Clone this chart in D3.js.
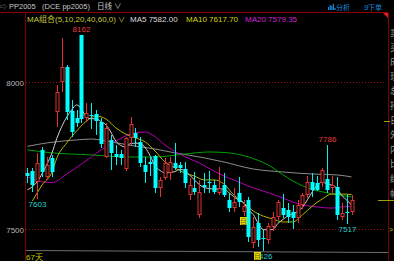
<!DOCTYPE html>
<html>
<head>
<meta charset="utf-8">
<script src="https://cdn.jsdelivr.net/npm/d3@7"></script>
<style>
  html, body { margin: 0; padding: 0; background: #000; overflow: hidden; }
  svg { display: block; }
  text { font-family: "Liberation Sans", "Noto Sans CJK SC", sans-serif; }
</style>
</head>
<body>
<svg id="chart" width="394" height="261"></svg>
<script>
// daily candles, PP2005 (67 days)
const candleOpen  = [7691,7699,7661,7770,7678,7744,7900,8002,8053,7902,7880,8160,7877,7890,7892,7864,7747,7804,7756,7756,
                     7704,7810,7829,7798,7719,7728,7749,7640,7673,7690,7724,7719,7704,7617,7640,7549,7651,7662,7651,7622,
                     7651,7600,7574,7622,7558,7600,7452,7520,7472,7463,7509,7543,7571,7566,7560,7537,7583,7617,7662,7659,
                     7657,7670,7640,7645,7543,7560,7560];
const candleHigh  = [7708,7708,7760,7781,7746,7753,7991,8150,8060,7940,7906,8162,7930,7930,7906,7879,7860,7821,7787,7770,
                     7815,7881,7844,7815,7747,7750,7753,7679,7742,7747,7793,7730,7730,7673,7696,7668,7690,7700,7668,7711,
                     7690,7622,7640,7679,7600,7611,7543,7554,7498,7520,7560,7600,7620,7590,7583,7600,7625,7680,7690,7680,
                     7707,7786,7680,7679,7590,7620,7617];
const candleLow   = [7657,7627,7603,7679,7668,7679,7849,7968,7872,7815,7848,7862,7865,7840,7821,7775,7742,7702,7719,7720,
                     7700,7787,7781,7713,7657,7680,7622,7611,7668,7668,7702,7690,7640,7600,7617,7537,7625,7622,7620,7615,
                     7611,7560,7560,7577,7546,7458,7435,7440,7426,7450,7495,7530,7540,7520,7500,7520,7570,7605,7610,7630,
                     7645,7622,7625,7530,7530,7517,7549];
const candleClose = [7682,7651,7725,7696,7719,7696,7968,8053,7900,7832,7861,7875,7895,7885,7869,7790,7844,7759,7747,7742,
                     7810,7857,7810,7724,7696,7722,7640,7668,7724,7730,7708,7708,7656,7651,7628,7628,7645,7656,7628,7640,
                     7617,7574,7594,7592,7580,7475,7509,7463,7466,7511,7543,7594,7549,7543,7537,7583,7617,7662,7635,7634,
                     7702,7634,7650,7549,7556,7555,7600];

// moving averages: [day index, price]
const ma5Pts  = [[0,7634],[1,7645],[2,7662],[3,7690],[4,7722],[5,7760],[6,7810],[7,7850],[8,7882],[9,7906],[10,7923],[11,7910],
                 [12,7882],[13,7876],[14,7876],[15,7866],[16,7855],[17,7830],[18,7800],[19,7785],[20,7780],[21,7792],[22,7793],
                 [23,7792],[24,7777],[25,7750],[26,7716],[27,7700],[28,7692],[30,7696],[31,7704],[32,7700],[33,7685],[34,7668],
                 [35,7652],[36,7642],[38,7637],[40,7637],[41,7625],[42,7611],[43,7600],[44,7591],[45,7565],[46,7550],[47,7520],
                 [48,7499],[49,7498],[50,7500],[51,7520],[52,7533],[53,7545],[54,7553],[55,7560],[56,7575],[57,7600],[58,7627],
                 [59,7650],[60,7660],[61,7655],[62,7650],[63,7640],[64,7615],[65,7600],[66,7582]];
const ma10Pts = [[1,7596],[3,7651],[5,7695],[6,7743],[8,7794],[10,7834],[12,7868],[14,7885],[16,7875],[18,7845],[20,7824],
                 [22,7811],[24,7797],[26,7766],[28,7729],[30,7709],[32,7692],[34,7681],[36,7668],[38,7668],[40,7654],[42,7617],
                 [44,7590],[46,7562],[48,7545],[50,7535],[52,7525],[54,7525],[56,7549],[58,7579],[60,7603],[62,7620],[64,7620],[66,7618]];
const ma20Pts = [[0,7679],[3,7662],[5,7659],[8,7688],[11,7722],[13,7746],[15,7770],[18,7800],[21,7824],[24,7831],[26,7815],
                 [28,7787],[30,7765],[32,7747],[35,7726],[38,7698],[40,7681],[42,7668],[45,7647],[48,7630],[51,7613],[54,7593],
                 [56,7583],[59,7576],[62,7572],[64,7576],[66,7579]];
const ma40Pts = [[0,7770],[5,7760],[13,7753],[20,7746],[26,7746],[32,7756],[37,7763],[41,7760],[45,7746],[49,7719],[53,7675],
                 [57,7641],[61,7624],[66,7610]];
const ma60Pts = [[0,7782],[4,7794],[10,7804],[13,7807],[17,7797],[22,7783],[26,7773],[30,7760],[36,7743],[40,7729],[46,7705],
                 [52,7695],[58,7688],[63,7685],[66,7678]];

const yTicks = [7500, 8000];
const extremes = [{i: 11, v: 8162, kind: "high"}, {i: 2, v: 7603, kind: "low"}, {i: 61, v: 7786, kind: "high"},
                  {i: 65, v: 7517, kind: "low"}, {i: 48, v: 7426, kind: "low"}];
const maLegend = [{t: "MA5 7582.00", c: "#dcdcdc"}, {t: "MA10 7617.70", c: "#d4d400"}, {t: "MA20 7579.35", c: "#d020d0"}];
const sidePanel = ["卖","买","成","现","总","持","日","外","内","比","结","幅"];

const svg = d3.select("#chart");
const width = 394, height = 261;
svg.append("rect").attr("width", width).attr("height", height).attr("fill", "#000");

const days = d3.range(candleClose.length);
const x = d3.scaleBand().domain(days).range([25, 354]).padding(0);
const cx = i => Math.round(x(i) + x.bandwidth() / 2);
const y = d3.scaleLinear().domain([7500, 8000]).range([229.3, 82.3]);

// header
svg.append("text").attr("x", 0).attr("y", 9).attr("fill", "#a0a0a0").style("font-size", "7px").text("⇨");
svg.append("text").attr("x", 9).attr("y", 9).attr("fill", "#c8c8c8").style("font-size", "7.5px").text("PP2005");
svg.append("text").attr("x", 42).attr("y", 9).attr("fill", "#c8c8c8").style("font-size", "7.5px").text("(DCE  pp2005)");
svg.append("text").attr("x", 97).attr("y", 9).attr("fill", "#c8c8c8").style("font-size", "7.5px").text("日线 ∨");

// top right buttons
const btn = svg.append("g").attr("fill", "#1c86d8");
btn.selectAll("rect").data([3, 5, 4, 6, 2]).enter().append("rect")
  .attr("x", (d, k) => 328 + k * 1.6).attr("y", d => 10 - d).attr("width", 1.2).attr("height", d => d);
btn.append("text").attr("x", 336).attr("y", 10).style("font-size", "7px").text("分析");
btn.append("text").attr("x", 364).attr("y", 9.5).style("font-size", "8px").style("font-style", "italic").text("9");
btn.append("text").attr("x", 368).attr("y", 10).style("font-size", "7px").text("下单");

// frame lines
svg.append("line").attr("x1", 0).attr("x2", 388).attr("y1", 12.5).attr("y2", 12.5).attr("stroke", "#900000");
svg.append("line").attr("x1", 25.5).attr("x2", 25.5).attr("y1", 13).attr("y2", height).attr("stroke", "#800000");
svg.append("line").attr("x1", 388.5).attr("x2", 388.5).attr("y1", 13).attr("y2", height).attr("stroke", "#800000");
svg.append("path").attr("d", "M383,13 L388,13 L388,18 Z").attr("fill", "#e02020");

// side panel (runs past the window edge, as in the source)
svg.append("g").selectAll("text").data(sidePanel).enter().append("text")
  .attr("x", 390).attr("y", (d, k) => 36 + k * 14.6).attr("fill", "#9a9a9a").style("font-size", "9px").text(d => d);
svg.append("line").attr("x1", 384).attr("x2", 390).attr("y1", 121.5).attr("y2", 121.5).attr("stroke", "#a0a000");
svg.append("line").attr("x1", 378).attr("x2", 394).attr("y1", 200.5).attr("y2", 200.5).attr("stroke", "#a0a000");
svg.append("text").attr("x", 389).attr("y", 232).attr("fill", "#c8c800").style("font-size", "7px").text(">");

// MA row
svg.append("text").attr("x", 27).attr("y", 21.5).attr("fill", "#c8c83c").style("font-size", "8px").text("MA组合(5,10,20,40,60,0)");
svg.append("text").attr("x", 118).attr("y", 21.5).attr("fill", "#c8c83c").style("font-size", "7px").text("∨");
const legendX = [130, 186, 245];
svg.append("g").selectAll("text").data(maLegend).enter().append("text")
  .attr("x", (d, k) => legendX[k]).attr("y", 21.5).attr("fill", d => d.c).style("font-size", "8px").text(d => d.t);

// y axis + dotted grid
const yAxis = svg.append("g").attr("transform", "translate(24,0)")
  .call(d3.axisLeft(y).tickValues(yTicks).tickSize(0).tickPadding(0).tickFormat(d3.format("d")));
yAxis.select(".domain").remove();
yAxis.selectAll("text").attr("fill", "#b4b4b4").style("font-size", "8px").attr("dy", "0.35em");
svg.append("g").selectAll("line").data(yTicks).enter().append("line")
  .attr("x1", 26).attr("x2", 386)
  .attr("y1", d => Math.round(y(d)) + 0.5).attr("y2", d => Math.round(y(d)) + 0.5)
  .attr("stroke", "#a01010").attr("stroke-dasharray", "1,2");

// bottom separator
svg.append("line").attr("x1", 26).attr("x2", 388).attr("y1", 250.5).attr("y2", 252.5).attr("stroke", "#6e6e6e");
svg.append("text").attr("x", 26).attr("y", 260).attr("fill", "#c8c800").style("font-size", "8px").text("67天");

// moving averages
const maLine = d3.line().x(d => x(d[0]) + x.bandwidth() / 2).y(d => y(d[1])).curve(d3.curveMonotoneX);
const maSets = [
  {pts: ma60Pts, c: "#8c8c8c"},
  {pts: ma40Pts, c: "#00a000"},
  {pts: ma20Pts, c: "#b000b0"},
  {pts: ma10Pts, c: "#b4b400"},
  {pts: ma5Pts,  c: "#d0d0d0"}
];
svg.append("g").selectAll("path").data(maSets).enter().append("path")
  .attr("d", d => maLine(d.pts)).attr("fill", "none").attr("stroke", d => d.c).attr("stroke-width", 1);

// candles
const candles = days.map(i => ({i, o: candleOpen[i], h: candleHigh[i], l: candleLow[i], c: candleClose[i]}));
const up = candles.filter(d => d.c >= d.o), down = candles.filter(d => d.c < d.o);
const gDown = svg.append("g");
gDown.selectAll("line").data(down).enter().append("line")
  .attr("x1", d => cx(d.i) + 0.5).attr("x2", d => cx(d.i) + 0.5)
  .attr("y1", d => Math.round(y(d.h))).attr("y2", d => Math.round(y(d.l)))
  .attr("stroke", "#00f0f0");
gDown.selectAll("rect").data(down).enter().append("rect")
  .attr("x", d => cx(d.i) - 1.5).attr("width", 4)
  .attr("y", d => Math.round(y(d.o)))
  .attr("height", d => Math.max(1, Math.round(y(d.c)) - Math.round(y(d.o))))
  .attr("fill", "#00ffff");
const gUp = svg.append("g");
gUp.selectAll("line.hi").data(up).enter().append("line").attr("class", "hi")
  .attr("x1", d => cx(d.i) + 0.5).attr("x2", d => cx(d.i) + 0.5)
  .attr("y1", d => Math.round(y(d.h))).attr("y2", d => Math.round(y(d.c)))
  .attr("stroke", "#e03232");
gUp.selectAll("line.lo").data(up).enter().append("line").attr("class", "lo")
  .attr("x1", d => cx(d.i) + 0.5).attr("x2", d => cx(d.i) + 0.5)
  .attr("y1", d => Math.round(y(d.o))).attr("y2", d => Math.round(y(d.l)))
  .attr("stroke", "#e03232");
gUp.selectAll("rect").data(up).enter().append("rect")
  .attr("x", d => cx(d.i) - 1).attr("width", 3)
  .attr("y", d => Math.round(y(d.c)) + 0.5)
  .attr("height", d => Math.max(1, Math.round(y(d.o)) - Math.round(y(d.c)) - 1))
  .attr("fill", "#000").attr("stroke", "#e03232");

// high / low labels
svg.append("g").selectAll("text").data(extremes).enter().append("text")
  .attr("x", d => cx(d.i) + 0.5)
  .attr("y", d => d.kind === "high" ? y(d.v) - 3 : y(d.v) + 8)
  .attr("text-anchor", "middle").style("font-size", "8px")
  .attr("fill", d => d.kind === "high" ? "#e03c3c" : "#20d0d0")
  .text(d => d.v);

// info markers
const marks = [{i: 44, v: 7542}, {i: 47, v: 7423}];
const gm = svg.append("g").selectAll("g").data(marks).enter().append("g")
  .attr("transform", d => `translate(${cx(d.i) - 4},${Math.round(y(d.v))})`);
gm.append("rect").attr("width", 7).attr("height", 8).attr("fill", "#e8dc00");
gm.append("text").attr("x", 3.5).attr("y", 7).attr("text-anchor", "middle").attr("fill", "#6a5a00")
  .style("font-size", "7px").text("目");
</script>
</body>
</html>
